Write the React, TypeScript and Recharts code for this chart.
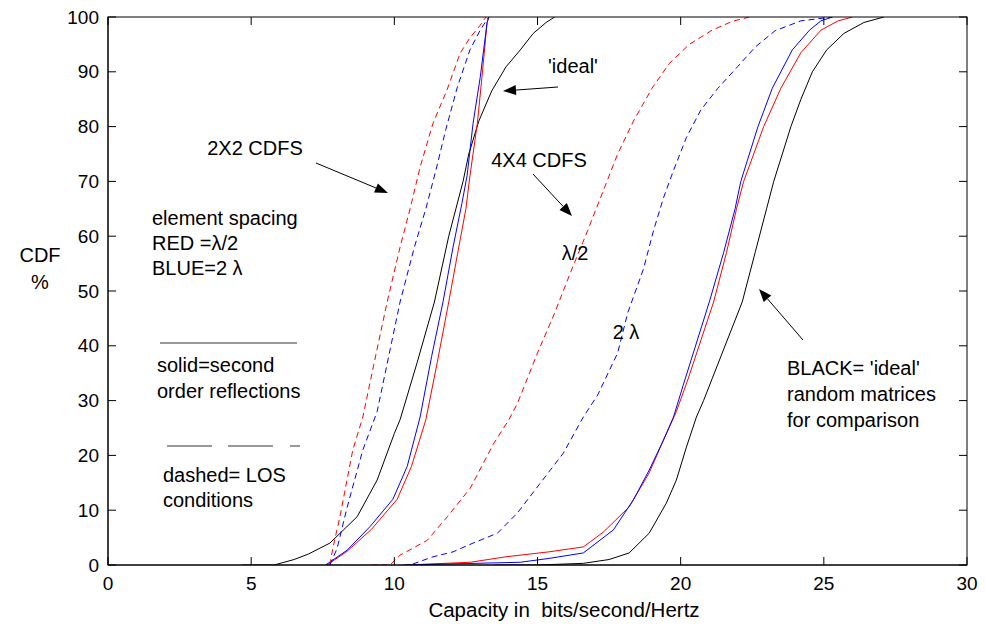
import { LineChart, Line, XAxis, YAxis } from 'recharts';

// Capacity CDFs: [capacity (bits/s/Hz), CDF %]
const ideal2x2 = [[4.7, 0], [5.8, 0], [6.5, 1], [7.0, 2], [7.75, 4], [8.7, 8.8], [9.4, 15.5], [10.0, 24], [10.2, 26.5], [10.8, 37], [11.4, 48], [11.9, 60], [12.15, 65], [12.4, 70], [12.6, 75], [12.95, 81], [13.4, 86.5], [13.9, 90.9], [14.4, 94], [14.85, 97], [15.3, 99], [15.6, 100]];
const blue2x2 = [[7.6, 0], [8.35, 2.7], [9.15, 7], [9.95, 12], [10.45, 18], [10.9, 27], [11.3, 38], [11.7, 48], [12.05, 58], [12.36, 66], [12.54, 71], [12.75, 80.6], [13.0, 89], [13.24, 99], [13.3, 100]];
const red2x2 = [[7.65, 0], [8.35, 2.5], [9.2, 6.5], [10.1, 12], [10.6, 18], [11.1, 26.5], [11.5, 37], [11.9, 48], [12.25, 58], [12.5, 65], [12.64, 71], [12.9, 80.6], [13.06, 89], [13.24, 99], [13.3, 100]];
const red2x2Los = [[7.75, 0], [7.85, 3], [8.1, 8.8], [8.55, 21], [8.9, 27], [9.3, 37], [9.75, 48], [10.2, 58], [10.55, 65], [10.9, 72.6], [11.35, 80.6], [11.84, 86.7], [12.3, 93.4], [12.64, 96.2], [13.0, 98.5], [13.2, 100]];
const blue2x2Los = [[7.75, 0], [8.0, 3], [8.35, 10.5], [8.9, 21], [9.4, 28], [9.8, 38], [10.2, 48], [10.7, 58], [11.1, 65], [11.45, 72], [11.8, 79.5], [12.2, 87.2], [12.64, 94], [13.0, 97.6], [13.17, 99], [13.3, 100]];

const ideal4x4 = [[13.5, 0], [15.0, 0], [16.6, 0.3], [17.5, 1], [18.2, 2.2], [18.9, 5.8], [19.5, 11.3], [19.85, 15.5], [20.2, 21.5], [20.55, 27], [20.8, 30], [21.1, 34], [22.15, 48], [22.6, 57], [23.0, 65], [23.25, 70], [23.55, 75], [23.85, 80], [24.2, 85], [24.6, 90], [25.1, 94], [25.7, 97], [26.4, 99], [27.1, 100]];
const red4x4 = [[10.4, 0], [12.65, 0.5], [13.9, 1.5], [15.4, 2.4], [16.6, 3.3], [17.3, 6], [18.2, 10.6], [18.9, 16.8], [19.4, 22.8], [19.85, 28], [20.25, 33.8], [21.15, 48], [21.6, 57], [21.95, 65], [22.2, 70], [22.55, 75], [22.9, 80], [23.5, 87], [24.2, 93.5], [24.9, 97.6], [25.5, 99.3], [26.0, 100]];
const blue4x4 = [[10.4, 0], [14.4, 0.5], [15.4, 1.2], [16.6, 2.2], [17.65, 6.4], [18.35, 11.9], [18.9, 17.3], [19.4, 22.8], [19.75, 27], [20.1, 33], [21.0, 48], [21.5, 57], [21.9, 65], [22.1, 70], [22.4, 75], [22.7, 80], [23.2, 87], [23.9, 94], [24.5, 97.6], [24.9, 99.3], [25.3, 100]];
const red4x4Los = [[9.2, 0], [9.85, 0], [10.2, 1.8], [11.15, 4.5], [11.85, 8.8], [12.65, 14], [13.45, 22], [14.0, 26.5], [14.3, 29.5], [15.0, 38.7], [15.6, 46], [16.2, 54], [16.75, 61], [17.35, 69], [17.8, 75], [18.35, 81], [19.0, 87], [19.6, 91.5], [20.3, 95], [21.1, 97.6], [21.8, 99.2], [22.4, 100]];
const blue4x4Los = [[10.3, 0], [10.55, 0], [11.35, 1.5], [12.05, 2.4], [12.75, 4], [13.6, 5.8], [14.3, 9.5], [15.4, 17], [15.9, 20.4], [16.6, 27], [17.1, 31], [17.8, 38.7], [18.15, 46], [18.7, 54], [19.05, 61], [19.4, 67], [19.75, 72], [20.2, 78], [20.7, 83], [21.3, 87], [22.0, 91], [22.6, 94.5], [23.3, 97.5], [24.2, 99.3], [25.3, 100]];

const xTicks = [0, 5, 10, 15, 20, 25, 30];
const yTicks = [0, 10, 20, 30, 40, 50, 60, 70, 80, 90, 100];

const toRows = (pts: number[][]) => pts.map(([x, y]) => ({ x, y }));

const series = [
  { name: '2x2 ideal', pts: ideal2x2, color: '#000000', dashed: false },
  { name: '2x2 lambda/2', pts: red2x2, color: '#ff0000', dashed: false },
  { name: '2x2 2 lambda', pts: blue2x2, color: '#0000ff', dashed: false },
  { name: '2x2 LOS lambda/2', pts: red2x2Los, color: '#ff0000', dashed: true },
  { name: '2x2 LOS 2 lambda', pts: blue2x2Los, color: '#0000ff', dashed: true },
  { name: '4x4 ideal', pts: ideal4x4, color: '#000000', dashed: false },
  { name: '4x4 lambda/2', pts: red4x4, color: '#ff0000', dashed: false },
  { name: '4x4 2 lambda', pts: blue4x4, color: '#0000ff', dashed: false },
  { name: '4x4 LOS lambda/2', pts: red4x4Los, color: '#ff0000', dashed: true },
  { name: '4x4 LOS 2 lambda', pts: blue4x4Los, color: '#0000ff', dashed: true },
];

const W = 985;
const H = 626;
const PLOT = { left: 108, right: 967, top: 17, bottom: 565 };
const TICK = 8;
const FONT = '"Liberation Sans", Arial, Helvetica, sans-serif';

// matlab style: tick marks point into the box on all four sides
const BottomTick = ({ x, payload }: any) => (
  <g>
    <line x1={x} x2={x} y1={PLOT.bottom} y2={PLOT.bottom - TICK} stroke="#000" strokeWidth={1} />
    <line x1={x} x2={x} y1={PLOT.top} y2={PLOT.top + TICK} stroke="#000" strokeWidth={1} />
    <text x={x} y={PLOT.bottom + 18} textAnchor="middle" dominantBaseline="central" fontSize={19} fontFamily={FONT} fill="#000">
      {payload.value}
    </text>
  </g>
);
const LeftTick = ({ y, payload }: any) => (
  <g>
    <line x1={PLOT.left} x2={PLOT.left + TICK} y1={y} y2={y} stroke="#000" strokeWidth={1} />
    <line x1={PLOT.right} x2={PLOT.right - TICK} y1={y} y2={y} stroke="#000" strokeWidth={1} />
    <text x={PLOT.left - 9} y={y} textAnchor="end" dominantBaseline="central" fontSize={19} fontFamily={FONT} fill="#000">
      {payload.value}
    </text>
  </g>
);

const Arrow = ({ x1, y1, x2, y2 }: { x1: number; y1: number; x2: number; y2: number }) => {
  const a = Math.atan2(y2 - y1, x2 - x1);
  const len = 13;
  const half = 5;
  const bx = x2 - len * Math.cos(a);
  const by = y2 - len * Math.sin(a);
  const px = -Math.sin(a) * half;
  const py = Math.cos(a) * half;
  return (
    <g>
      <line x1={x1} y1={y1} x2={bx} y2={by} stroke="#000" strokeWidth={1} />
      <polygon points={`${x2},${y2} ${bx + px},${by + py} ${bx - px},${by - py}`} fill="#000" />
    </g>
  );
};

function Notes() {
  const t = { fontSize: 20, fontFamily: FONT, fill: '#000', dominantBaseline: 'central' as const };
  return (
    <svg width={W} height={H} style={{ position: 'absolute', left: 0, top: 0, pointerEvents: 'none' }}>
      {/* plot box */}
      <rect x={PLOT.left} y={PLOT.top} width={PLOT.right - PLOT.left} height={PLOT.bottom - PLOT.top} fill="none" stroke="#000" />

      <text {...t} x={40} y={255} textAnchor="middle">CDF</text>
      <text {...t} x={40} y={282} textAnchor="middle">%</text>
      <text {...t} x={564} y={609} textAnchor="middle" fontSize={20.5} style={{ whiteSpace: 'pre' }}>Capacity in  bits/second/Hertz</text>

      <text {...t} x={255} y={148} textAnchor="middle">2X2 CDFS</text>
      <Arrow x1={316} y1={163} x2={388} y2={193} />

      <text {...t} x={152} y={218}>element spacing</text>
      <text {...t} x={152} y={243}>RED =λ/2</text>
      <text {...t} x={152} y={268}>BLUE=2 λ</text>

      <line x1={160} x2={297} y1={343} y2={343} stroke="#333" />
      <text {...t} x={157} y={365}>solid=second</text>
      <text {...t} x={157} y={391}>order reflections</text>

      <line x1={167} x2={212} y1={446} y2={446} stroke="#333" />
      <line x1={228} x2={273} y1={446} y2={446} stroke="#333" />
      <line x1={290} x2={300} y1={446} y2={446} stroke="#333" />
      <text {...t} x={163} y={475}>dashed= LOS</text>
      <text {...t} x={163} y={500}>conditions</text>

      <text {...t} x={573} y={66} textAnchor="middle">'ideal'</text>
      <Arrow x1={558} y1={87} x2={503} y2={91} />

      <text {...t} x={539} y={160} textAnchor="middle">4X4 CDFS</text>
      <Arrow x1={533} y1={174} x2={572} y2={216} />

      <text {...t} x={575} y={253} textAnchor="middle">λ/2</text>
      <text {...t} x={626} y={332} textAnchor="middle">2 λ</text>

      <Arrow x1={803} y1={340} x2={759} y2={289} />
      <text {...t} x={787} y={368}>BLACK= 'ideal'</text>
      <text {...t} x={787} y={394}>random matrices</text>
      <text {...t} x={787} y={420}>for comparison</text>
    </svg>
  );
}

export default function App() {
  return (
    <div style={{ position: 'absolute', left: 0, top: 0, width: W, height: H, background: '#fff' }}>
      <LineChart
        width={W}
        height={H}
        margin={{ top: PLOT.top, right: W - PLOT.right, bottom: H - PLOT.bottom - 40, left: PLOT.left - 60 }}
      >
        <XAxis
          dataKey="x"
          type="number"
          domain={[0, 30]}
          ticks={xTicks}
          interval={0}
          allowDataOverflow
          height={40}
          tickLine={false}
          tickSize={0}
          tick={<BottomTick />}
          axisLine={{ stroke: '#000' }}
        />
        <YAxis
          type="number"
          domain={[0, 100]}
          ticks={yTicks}
          interval={0}
          allowDataOverflow
          width={60}
          tickLine={false}
          tickSize={0}
          tick={<LeftTick />}
          axisLine={{ stroke: '#000' }}
        />
        {series.map((s) => (
          <Line
            key={s.name}
            name={s.name}
            data={toRows(s.pts)}
            dataKey="y"
            type="linear"
            stroke={s.color}
            strokeWidth={1}
            strokeDasharray={s.dashed ? '6 4' : undefined}
            dot={false}
            activeDot={false}
            isAnimationActive={false}
          />
        ))}
      </LineChart>
      <Notes />
    </div>
  );
}
